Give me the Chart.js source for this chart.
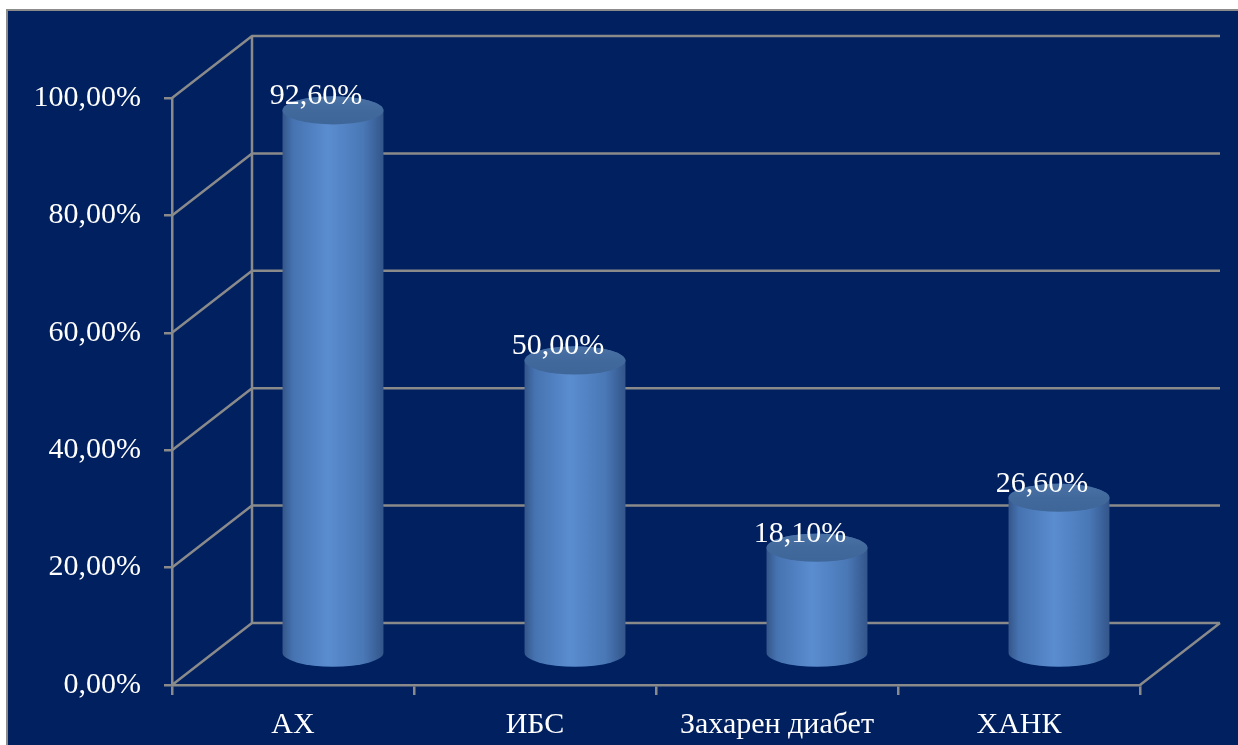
<!DOCTYPE html>
<html>
<head>
<meta charset="utf-8">
<script src="https://cdn.jsdelivr.net/npm/chart.js@4.4.1/dist/chart.umd.min.js"></script>
<style>
	html, body { margin: 0; padding: 0; background: #fff; }
	#wrap { width: 1238px; height: 745px; }
</style>
</head>
<body>
<div id="wrap"><canvas id="chart"></canvas></div>
<script>
const categories = ['АХ', 'ИБС', 'Захарен диабет', 'ХАНК'];
const values = [92.6, 50.0, 18.1, 26.6];
const yTicks = [0, 20, 40, 60, 80, 100];

// depth of the fake 3d box
const DX = 80;
const DY = -62;
const GRID = '#8a8a8a';
const FONT = { family: '"Liberation Serif", "Times New Roman", serif', size: 30 };

const fmt = (v) => v.toFixed(2).replace('.', ',') + '%';

const backdrop = {
	id: 'backdrop',
	beforeDraw(chart) {
		const { ctx, width, height } = chart;
		ctx.save();
		ctx.fillStyle = '#fff';
		ctx.fillRect(0, 0, width, height);
		ctx.fillStyle = '#002060';
		ctx.fillRect(7, 10, width - 7, height - 10);
		ctx.strokeStyle = '#8c8c8c';
		ctx.lineWidth = 2;
		ctx.strokeRect(7, 10, width + 10, height + 10);
		ctx.restore();
	},
	beforeDatasetsDraw(chart) {
		const { ctx, chartArea } = chart;
		const y = chart.scales.y;
		ctx.save();
		ctx.strokeStyle = GRID;
		ctx.lineWidth = 2.5;
		ctx.lineJoin = 'round';
		ctx.beginPath();
		yTicks.forEach((t) => {
			const py = y.getPixelForValue(t);
			ctx.moveTo(chartArea.left, py);
			ctx.lineTo(chartArea.left + DX, py + DY);
			ctx.lineTo(chartArea.right + DX, py + DY);
		});
		// back wall edge and floor side
		ctx.moveTo(chartArea.left + DX, y.getPixelForValue(100) + DY);
		ctx.lineTo(chartArea.left + DX, y.getPixelForValue(0) + DY);
		ctx.moveTo(chartArea.right, chartArea.bottom);
		ctx.lineTo(chartArea.right + DX, chartArea.bottom + DY);
		ctx.stroke();
		ctx.restore();
	},
};

const cylinders = {
	id: 'cylinders',
	afterDatasetsDraw(chart) {
		const { ctx } = chart;
		const meta = chart.getDatasetMeta(0);
		ctx.save();
		meta.data.forEach((el, i) => {
			const cx = el.x + DX / 2;
			const r = el.width / 2;
			const top = el.y + DY / 2;
			const base = el.base + DY / 2;
			const ry = 14;

			const side = ctx.createLinearGradient(cx - r, 0, cx + r, 0);
			side.addColorStop(0, '#34568a');
			side.addColorStop(0.1, '#4672b0');
			side.addColorStop(0.45, '#5a8dd0');
			side.addColorStop(0.8, '#4a78b6');
			side.addColorStop(1, '#33558a');
			ctx.beginPath();
			ctx.moveTo(cx - r, top);
			ctx.lineTo(cx - r, base);
			ctx.ellipse(cx, base, r, ry, 0, Math.PI, 0, true);
			ctx.lineTo(cx + r, top);
			ctx.ellipse(cx, top, r, ry, 0, 0, Math.PI, true);
			ctx.closePath();
			ctx.fillStyle = side;
			ctx.fill();

			const cap = ctx.createLinearGradient(0, top - ry, 0, top + ry);
			cap.addColorStop(0, '#4a72a6');
			cap.addColorStop(0.5, '#42699c');
			cap.addColorStop(1, '#3f6698');
			ctx.beginPath();
			ctx.ellipse(cx, top, r, ry, 0, 0, Math.PI * 2);
			ctx.fillStyle = cap;
			ctx.fill();

			ctx.fillStyle = '#fff';
			ctx.font = `${FONT.size}px ${FONT.family}`;
			ctx.textAlign = 'center';
			ctx.textBaseline = 'middle';
			ctx.fillText(fmt(values[i]), el.x + 23, el.y - 45);
		});
		ctx.restore();
	},
};

new Chart(document.getElementById('chart'), {
	type: 'bar',
	data: {
		labels: categories,
		datasets: [
			{
				data: values,
				backgroundColor: 'rgba(0,0,0,0)',
				barPercentage: 0.417,
				categoryPercentage: 1,
			},
		],
	},
	options: {
		responsive: true,
		maintainAspectRatio: false,
		animation: false,
		layout: { padding: { top: 98, right: 98, left: 0, bottom: 0 } },
		plugins: {
			legend: { display: false },
			tooltip: { enabled: false },
		},
		scales: {
			x: {
				afterFit: (s) => { s.height = 60; },
				grid: { drawOnChartArea: false, tickLength: 10, color: GRID, lineWidth: 2.5 },
				border: { color: GRID, width: 2.5 },
				ticks: { color: '#fff', font: FONT, padding: 12, maxRotation: 0 },
			},
			y: {
				min: 0,
				max: 100,
				afterFit: (s) => { s.width = 172; },
				grid: { drawOnChartArea: false, tickLength: 8, color: GRID, lineWidth: 2.5 },
				border: { color: GRID, width: 2.5 },
				ticks: {
					stepSize: 20,
					color: '#fff',
					font: FONT,
					padding: 23,
					callback: (v) => fmt(v),
				},
			},
		},
	},
	plugins: [backdrop, cylinders],
});
</script>
</body>
</html>
